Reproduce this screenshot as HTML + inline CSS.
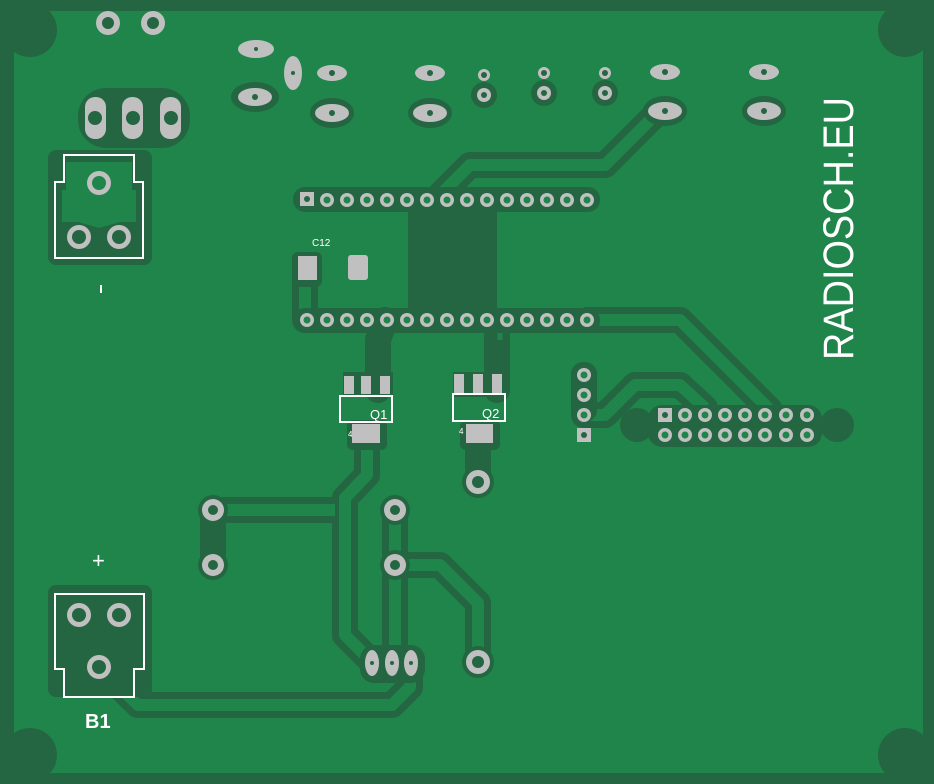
<!DOCTYPE html>
<html><head><meta charset="utf-8"><style>
html,body{margin:0;padding:0;background:#246641;}
svg{display:block}
</style></head><body>
<svg width="934" height="784" viewBox="0 0 934 784" xmlns="http://www.w3.org/2000/svg">
<rect width="934" height="784" fill="#246641"/>
<rect x="14" y="11" width="909" height="762" fill="#20854a"/>
<g fill="#246641">
<circle cx="30" cy="30" r="27"/><circle cx="905" cy="30" r="27"/>
<circle cx="30" cy="755" r="27"/><circle cx="905" cy="755" r="27"/>
<circle cx="637" cy="425" r="17"/><circle cx="837" cy="425" r="17"/>
<rect x="408" y="195" width="89" height="125"/>
</g>
<g fill="none" stroke="#246641" stroke-width="26" stroke-linejoin="round" stroke-linecap="round">
<path d="M660,110 L605,165 L470,165 L440,195"/>
<path d="M587,320 L680,320 L770,410"/>
<path d="M584,415 L605,415 L635,385 L680,385 L705,408"/>
<path d="M385,320 L378,340 L378,390"/>
<path d="M497,320 L497,390"/>
<path d="M367,435 L367,475 L345,498 L345,635 L372,662"/>
<path d="M213,510 L335,510"/>
<path d="M213,510 L213,565"/>
<path d="M395,510 L395,660"/>
<path d="M395,565 L440,565 L478,603 L478,662"/>
<path d="M478,435 L478,482"/>
<path d="M100,668 L138,705 L392,705 L410,687 L410,665"/>
<path d="M305,268 L305,320"/>
</g>
<g fill="none" stroke="#20854a" stroke-width="12" stroke-linejoin="round">
<path d="M660,110 L605,165 L470,165 L440,195"/>
<path d="M587,320 L680,320 L770,410"/>
<path d="M584,415 L605,415 L635,385 L680,385 L705,408"/>
<path d="M367,435 L367,475 L345,498 L345,635 L372,662"/>
<path d="M213,510 L335,510"/>
<path d="M395,510 L395,660"/>
<path d="M395,565 L440,565 L478,603 L478,662"/>
<path d="M100,668 L138,705 L392,705 L410,687 L410,665"/>
<path d="M305,268 L305,320"/>
</g>
<path d="M405,200 L405,300 L392,318" fill="none" stroke="#20854a" stroke-width="5"/>
<path d="M500,200 L500,340" fill="none" stroke="#20854a" stroke-width="5"/>
<g fill="#246641">
<rect x="48" y="150" width="104" height="115" rx="8"/>
<rect x="48" y="585" width="104" height="112" rx="8"/>
<rect x="78" y="88" width="112" height="60" rx="28"/>
<rect x="293" y="187" width="307" height="25" rx="12"/>
<rect x="293" y="308" width="307" height="25" rx="12"/>
<rect x="648" y="405" width="174" height="42" rx="14"/>
<rect x="571" y="362" width="26" height="60" rx="12"/>
<rect x="292" y="252" width="30" height="35" rx="6"/>
<ellipse cx="255" cy="97" rx="24" ry="15"/><ellipse cx="332" cy="113" rx="22" ry="15"/>
<ellipse cx="430" cy="113" rx="22" ry="15"/><ellipse cx="665" cy="111" rx="22" ry="15"/>
<ellipse cx="764" cy="111" rx="22" ry="15"/>
<circle cx="484" cy="95" r="13"/><circle cx="544" cy="93" r="13"/><circle cx="605" cy="93" r="13"/>
<circle cx="213" cy="510" r="15"/><circle cx="213" cy="565" r="15"/>
<circle cx="395" cy="510" r="15"/><circle cx="395" cy="565" r="15"/>
<circle cx="478" cy="482" r="16"/><circle cx="478" cy="662" r="16"/>
<rect x="360" y="645" width="65" height="38" rx="14"/>
<rect x="343" y="372" width="50" height="25"/><rect x="453" y="372" width="50" height="25"/>
<rect x="347" y="420" width="40" height="30" rx="6"/><rect x="460" y="420" width="40" height="30" rx="6"/>
</g>
<path d="M66,162 L132,162 L132,190 L136,190 L136,222 L120,222 L99,228 L78,222 L62,222 L62,190 L66,190 Z" fill="#20854a"/>
<g fill="#c0c0c0">
<circle cx="108" cy="23" r="12"/><circle cx="153" cy="23" r="12"/>
<ellipse cx="256" cy="49" rx="18" ry="9"/><ellipse cx="255" cy="97" rx="17" ry="9"/>
<ellipse cx="293" cy="73" rx="9" ry="17"/>
<ellipse cx="332" cy="73" rx="15" ry="8"/><ellipse cx="332" cy="113" rx="17" ry="9"/>
<ellipse cx="430" cy="73" rx="15" ry="8"/><ellipse cx="430" cy="113" rx="17" ry="9"/>
<ellipse cx="665" cy="72" rx="15" ry="8"/><ellipse cx="665" cy="111" rx="17" ry="9"/>
<ellipse cx="764" cy="72" rx="15" ry="8"/><ellipse cx="764" cy="111" rx="17" ry="9"/>
<circle cx="484" cy="75" r="6"/><circle cx="484" cy="95" r="7"/>
<circle cx="544" cy="73" r="6"/><circle cx="544" cy="93" r="7"/>
<circle cx="605" cy="73" r="6"/><circle cx="605" cy="93" r="7"/>
<rect x="85" y="97" width="21" height="42" rx="10"/><rect x="122" y="97" width="21" height="42" rx="10"/><rect x="160" y="97" width="21" height="42" rx="10"/>
<circle cx="99" cy="183" r="12"/><circle cx="79" cy="237" r="12"/><circle cx="119" cy="237" r="12"/>
<circle cx="79" cy="615" r="12"/><circle cx="119" cy="615" r="12"/><circle cx="99" cy="667" r="12"/>
<rect x="298" y="256" width="19" height="24"/><rect x="348" y="255" width="20" height="25" rx="3"/>
<circle cx="213" cy="510" r="11"/><circle cx="213" cy="565" r="11"/>
<circle cx="395" cy="510" r="11"/><circle cx="395" cy="565" r="11"/>
<circle cx="478" cy="482" r="12"/><circle cx="478" cy="662" r="12"/>
<ellipse cx="372" cy="663" rx="7" ry="13"/><ellipse cx="392" cy="663" rx="7" ry="13"/><ellipse cx="411" cy="663" rx="7" ry="13"/>
<rect x="344" y="376" width="10" height="18"/><rect x="361" y="376" width="10" height="18"/><rect x="380" y="376" width="10" height="18"/>
<rect x="454" y="374" width="10" height="19"/><rect x="473" y="374" width="10" height="19"/><rect x="492" y="374" width="10" height="19"/>
<rect x="352" y="424" width="28" height="19"/><rect x="466" y="424" width="27" height="19"/>
<rect x="577" y="428" width="14" height="14"/>
<rect x="300" y="192" width="14" height="14"/>
<rect x="658" y="408" width="14" height="14"/>
</g>
<g fill="#c0c0c0">
<circle cx="327" cy="200" r="7"/><circle cx="347" cy="200" r="7"/><circle cx="367" cy="200" r="7"/><circle cx="387" cy="200" r="7"/><circle cx="407" cy="200" r="7"/><circle cx="427" cy="200" r="7"/><circle cx="447" cy="200" r="7"/><circle cx="467" cy="200" r="7"/><circle cx="487" cy="200" r="7"/><circle cx="507" cy="200" r="7"/><circle cx="527" cy="200" r="7"/><circle cx="547" cy="200" r="7"/><circle cx="567" cy="200" r="7"/><circle cx="587" cy="200" r="7"/>
<circle cx="307" cy="320" r="7"/><circle cx="327" cy="320" r="7"/><circle cx="347" cy="320" r="7"/><circle cx="367" cy="320" r="7"/><circle cx="387" cy="320" r="7"/><circle cx="407" cy="320" r="7"/><circle cx="427" cy="320" r="7"/><circle cx="447" cy="320" r="7"/><circle cx="467" cy="320" r="7"/><circle cx="487" cy="320" r="7"/><circle cx="507" cy="320" r="7"/><circle cx="527" cy="320" r="7"/><circle cx="547" cy="320" r="7"/><circle cx="567" cy="320" r="7"/><circle cx="587" cy="320" r="7"/>
<circle cx="584" cy="375" r="7"/><circle cx="584" cy="395" r="7"/><circle cx="584" cy="415" r="7"/>
<circle cx="685" cy="415" r="7"/><circle cx="705" cy="415" r="7"/><circle cx="725" cy="415" r="7"/><circle cx="745" cy="415" r="7"/><circle cx="765" cy="415" r="7"/><circle cx="786" cy="415" r="7"/><circle cx="807" cy="415" r="7"/>
<circle cx="665" cy="435" r="7"/><circle cx="685" cy="435" r="7"/><circle cx="705" cy="435" r="7"/><circle cx="725" cy="435" r="7"/><circle cx="745" cy="435" r="7"/><circle cx="765" cy="435" r="7"/><circle cx="786" cy="435" r="7"/><circle cx="807" cy="435" r="7"/>
</g>
<g fill="#246641">
<circle cx="108" cy="23" r="6"/><circle cx="153" cy="23" r="6"/>
<circle cx="256" cy="49" r="2"/><circle cx="255" cy="97" r="3"/><circle cx="293" cy="73" r="2"/>
<circle cx="332" cy="73" r="3"/><circle cx="332" cy="113" r="3"/><circle cx="430" cy="73" r="3"/><circle cx="430" cy="113" r="3"/>
<circle cx="665" cy="72" r="3"/><circle cx="665" cy="111" r="3"/><circle cx="764" cy="72" r="3"/><circle cx="764" cy="111" r="3"/>
<circle cx="484" cy="75" r="3"/><circle cx="484" cy="95" r="3"/><circle cx="544" cy="73" r="3"/><circle cx="544" cy="93" r="3"/><circle cx="605" cy="73" r="3"/><circle cx="605" cy="93" r="3"/>
<circle cx="95" cy="118" r="7"/><circle cx="133" cy="118" r="7"/><circle cx="171" cy="118" r="7"/>
<circle cx="79" cy="615" r="7"/><circle cx="119" cy="615" r="7"/><circle cx="99" cy="667" r="7"/>
<circle cx="213" cy="510" r="5"/><circle cx="213" cy="565" r="5"/><circle cx="395" cy="510" r="5"/><circle cx="395" cy="565" r="5"/>
<circle cx="478" cy="482" r="6"/><circle cx="478" cy="662" r="6"/>
<circle cx="372" cy="663" r="2"/><circle cx="392" cy="663" r="2"/><circle cx="411" cy="663" r="2"/>
<circle cx="307" cy="199" r="3"/><circle cx="584" cy="435" r="3"/><circle cx="665" cy="415" r="3"/>
<circle cx="79" cy="237" r="7"/><circle cx="119" cy="237" r="7"/>
</g>
<circle cx="99" cy="183" r="7" fill="#20854a"/>
<g fill="#20854a">
<circle cx="327" cy="200" r="3.5"/><circle cx="347" cy="200" r="3.5"/><circle cx="367" cy="200" r="3.5"/><circle cx="387" cy="200" r="3.5"/><circle cx="407" cy="200" r="3.5"/><circle cx="427" cy="200" r="3.5"/><circle cx="447" cy="200" r="3.5"/><circle cx="467" cy="200" r="3.5"/><circle cx="487" cy="200" r="3.5"/><circle cx="507" cy="200" r="3.5"/><circle cx="527" cy="200" r="3.5"/><circle cx="547" cy="200" r="3.5"/><circle cx="567" cy="200" r="3.5"/><circle cx="587" cy="200" r="3.5"/>
<circle cx="307" cy="320" r="3.5"/><circle cx="327" cy="320" r="3.5"/><circle cx="347" cy="320" r="3.5"/><circle cx="367" cy="320" r="3.5"/><circle cx="387" cy="320" r="3.5"/><circle cx="407" cy="320" r="3.5"/><circle cx="427" cy="320" r="3.5"/><circle cx="447" cy="320" r="3.5"/><circle cx="467" cy="320" r="3.5"/><circle cx="487" cy="320" r="3.5"/><circle cx="507" cy="320" r="3.5"/><circle cx="527" cy="320" r="3.5"/><circle cx="547" cy="320" r="3.5"/><circle cx="567" cy="320" r="3.5"/><circle cx="587" cy="320" r="3.5"/>
<circle cx="584" cy="375" r="3.5"/><circle cx="584" cy="395" r="3.5"/><circle cx="584" cy="415" r="3.5"/>
<circle cx="685" cy="415" r="3.5"/><circle cx="705" cy="415" r="3.5"/><circle cx="725" cy="415" r="3.5"/><circle cx="745" cy="415" r="3.5"/><circle cx="765" cy="415" r="3.5"/><circle cx="786" cy="415" r="3.5"/><circle cx="807" cy="415" r="3.5"/>
<circle cx="665" cy="435" r="3.5"/><circle cx="685" cy="435" r="3.5"/><circle cx="705" cy="435" r="3.5"/><circle cx="725" cy="435" r="3.5"/><circle cx="745" cy="435" r="3.5"/><circle cx="765" cy="435" r="3.5"/><circle cx="786" cy="435" r="3.5"/><circle cx="807" cy="435" r="3.5"/>
</g>
<g fill="none" stroke="#ffffff" stroke-width="2">
<path d="M64,155 L134,155 L134,182 L143,182 L143,258 L55,258 L55,182 L64,182 Z"/>
<path d="M55,594 L144,594 L144,669 L134,669 L134,697 L64,697 L64,669 L55,669 Z"/>
<rect x="340" y="396" width="52" height="26"/>
<rect x="453" y="394" width="52" height="27"/>
</g>
<g fill="#ffffff" font-family="Liberation Sans, sans-serif">
<rect x="100" y="285" width="2" height="8"/>
<text x="92" y="568" font-size="22">+</text>
<text x="85" y="728" font-size="20" font-weight="bold">B1</text>
<text x="312" y="246" font-size="10">C12</text>
<text x="370" y="419" font-size="13">Q1</text>
<text x="482" y="418" font-size="13">Q2</text>
<text x="348" y="437" font-size="8">4</text>
<text x="459" y="434" font-size="8">4</text>
<text transform="translate(853,360) rotate(-90)" font-size="43" textLength="263" lengthAdjust="spacingAndGlyphs">RADIOSCH.EU</text>
</g>
</svg>
</body></html>
